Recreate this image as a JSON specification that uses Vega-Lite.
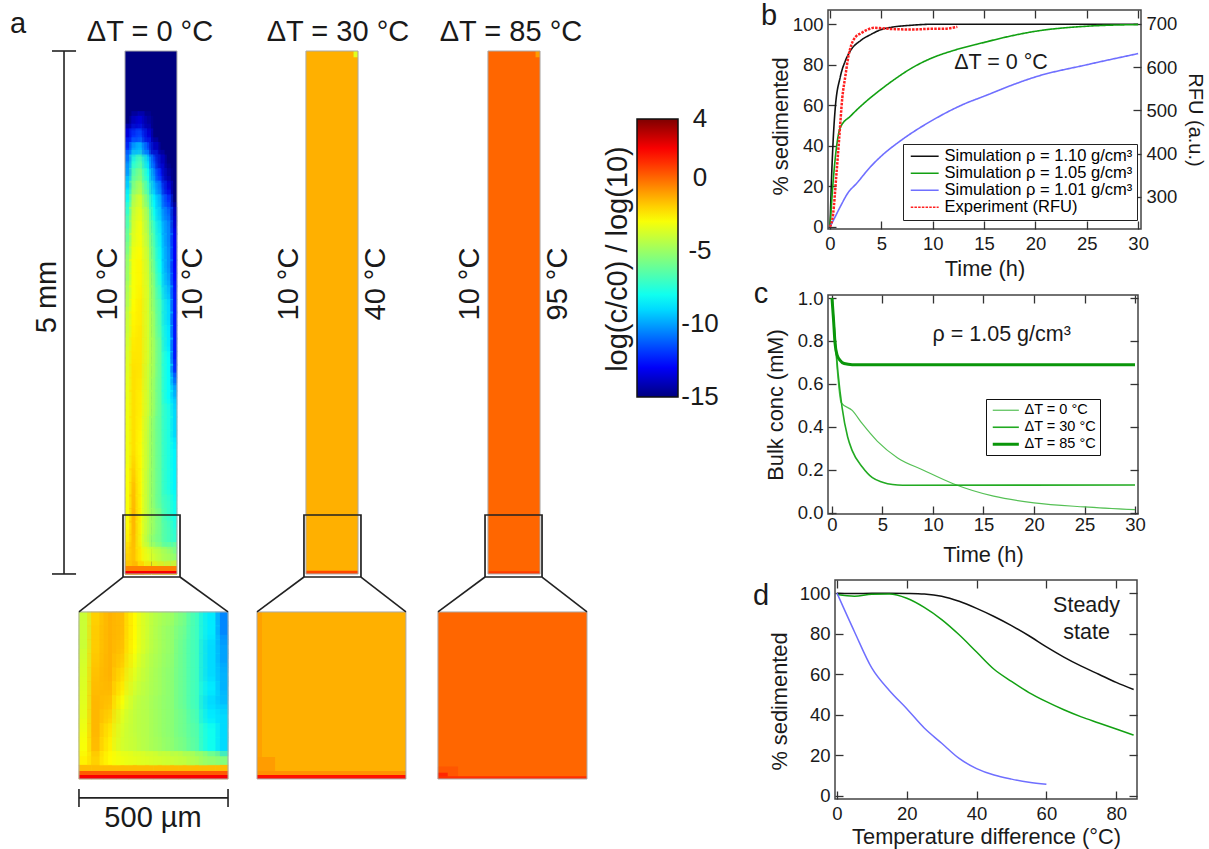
{"$schema":"https://vega.github.io/schema/vega-lite/v6.json","padding":{"left":0,"top":1,"right":0,"bottom":0},"background":"white","bounds":"flush","spacing":0,"resolve":{"scale":{"color":"independent"},"legend":{"color":"independent"}},"config":{"font":"Liberation Sans","view":{"stroke":"#444","strokeWidth":1.5},"axis":{"grid":false,"domain":false,"labelFont":"Liberation Sans","titleFont":"Liberation Sans","labelFontSize":18.5,"titleFontSize":21.8,"titleFontWeight":"normal","labelColor":"#1a1a1a","titleColor":"#1a1a1a","tickColor":"#333","tickWidth":1.3,"tickSize":-8,"labelPadding":13,"labelOverlap":false},"legend":{"labelFont":"Liberation Sans"},"text":{"font":"Liberation Sans","color":"#1a1a1a"}},"datasets":{"rects":[{"x":0.755,"x2":2.18,"y":-0.363,"y2":-1.96,"v":-4},{"x":1.195,"x2":1.692,"y":5,"y2":0,"v":-15},{"x":2.925,"x2":3.423,"y":5,"y2":0,"v":-1.38},{"x":4.665,"x2":5.163,"y":5,"y2":0,"v":0},{"x":2.457,"x2":3.881,"y":-0.363,"y2":-1.96,"v":-1.38},{"x":4.187,"x2":5.612,"y":-0.363,"y2":-1.96,"v":0}],"strips":[{"x":1.195,"x2":1.692,"y":0.076,"y2":0.029,"v":-0.5},{"x":1.195,"x2":1.692,"y":0.029,"y2":0,"v":2},{"x":2.925,"x2":3.423,"y":0.03,"y2":0,"v":0.6},{"x":3.38,"x2":3.42,"y":5,"y2":4.94,"v":-3.5},{"x":4.665,"x2":5.163,"y":0.025,"y2":0,"v":0.8},{"x":5.12,"x2":5.16,"y":5,"y2":4.94,"v":-1},{"x":0.755,"x2":2.18,"y":-1.883,"y2":-1.922,"v":0.2},{"x":0.755,"x2":2.18,"y":-1.922,"y2":-1.96,"v":2},{"x":2.457,"x2":2.505,"y":-0.363,"y2":-1.96,"v":-1.1},{"x":2.457,"x2":2.63,"y":-1.75,"y2":-1.9,"v":-1},{"x":2.457,"x2":3.881,"y":-1.883,"y2":-1.922,"v":-0.8},{"x":2.457,"x2":3.881,"y":-1.922,"y2":-1.96,"v":1.6},{"x":4.187,"x2":4.38,"y":-1.84,"y2":-1.96,"v":0.3},{"x":4.187,"x2":4.28,"y":-1.9,"y2":-1.96,"v":1.2},{"x":4.187,"x2":5.612,"y":-1.935,"y2":-1.96,"v":1}],"ch":[{"x":1.29,"y":4.31,"v":-14},{"x":1.35,"y":4.31,"v":-13.5},{"x":1.41,"y":4.31,"v":-14.5},{"x":1.23,"y":4.19,"v":-13.5},{"x":1.29,"y":4.19,"v":-12},{"x":1.35,"y":4.19,"v":-11.5},{"x":1.41,"y":4.19,"v":-13.5},{"x":1.23,"y":4.06,"v":-12},{"x":1.29,"y":4.06,"v":-10},{"x":1.35,"y":4.06,"v":-9.5},{"x":1.41,"y":4.06,"v":-11.5},{"x":1.48,"y":4.06,"v":-14},{"x":1.23,"y":3.94,"v":-10.5},{"x":1.29,"y":3.94,"v":-7.5},{"x":1.35,"y":3.94,"v":-6.5},{"x":1.41,"y":3.94,"v":-9},{"x":1.48,"y":3.94,"v":-11.5},{"x":1.54,"y":3.94,"v":-14},{"x":1.23,"y":3.81,"v":-10},{"x":1.29,"y":3.81,"v":-6.5},{"x":1.35,"y":3.81,"v":-5.5},{"x":1.41,"y":3.81,"v":-8},{"x":1.48,"y":3.81,"v":-10.5},{"x":1.54,"y":3.81,"v":-12.5},{"x":1.6,"y":3.81,"v":-14.5},{"x":1.23,"y":3.69,"v":-9},{"x":1.29,"y":3.69,"v":-5.5},{"x":1.35,"y":3.69,"v":-4.5},{"x":1.41,"y":3.69,"v":-7},{"x":1.48,"y":3.69,"v":-9.5},{"x":1.54,"y":3.69,"v":-11},{"x":1.6,"y":3.69,"v":-13.5},{"x":1.23,"y":3.56,"v":-8},{"x":1.29,"y":3.56,"v":-4.5},{"x":1.35,"y":3.56,"v":-3.6},{"x":1.41,"y":3.56,"v":-6},{"x":1.48,"y":3.56,"v":-8.5},{"x":1.54,"y":3.56,"v":-10},{"x":1.6,"y":3.56,"v":-12},{"x":1.23,"y":3.44,"v":-7},{"x":1.29,"y":3.44,"v":-4},{"x":1.35,"y":3.44,"v":-3.3},{"x":1.41,"y":3.44,"v":-5},{"x":1.48,"y":3.44,"v":-8},{"x":1.54,"y":3.44,"v":-9.5},{"x":1.6,"y":3.44,"v":-11},{"x":1.66,"y":3.44,"v":-14},{"x":1.23,"y":3.31,"v":-6.5},{"x":1.29,"y":3.31,"v":-3.7},{"x":1.35,"y":3.31,"v":-3},{"x":1.41,"y":3.31,"v":-4.8},{"x":1.48,"y":3.31,"v":-7.2},{"x":1.54,"y":3.31,"v":-9},{"x":1.6,"y":3.31,"v":-10.5},{"x":1.66,"y":3.31,"v":-13.5},{"x":1.23,"y":3.19,"v":-6},{"x":1.29,"y":3.19,"v":-3.5},{"x":1.35,"y":3.19,"v":-3},{"x":1.41,"y":3.19,"v":-4.5},{"x":1.48,"y":3.19,"v":-6.8},{"x":1.54,"y":3.19,"v":-8.7},{"x":1.6,"y":3.19,"v":-10.5},{"x":1.66,"y":3.19,"v":-13},{"x":1.23,"y":3.06,"v":-5.5},{"x":1.29,"y":3.06,"v":-3.2},{"x":1.35,"y":3.06,"v":-2.8},{"x":1.41,"y":3.06,"v":-4.2},{"x":1.48,"y":3.06,"v":-6.5},{"x":1.54,"y":3.06,"v":-8.5},{"x":1.6,"y":3.06,"v":-10.3},{"x":1.66,"y":3.06,"v":-13},{"x":1.23,"y":2.94,"v":-5},{"x":1.29,"y":2.94,"v":-3},{"x":1.35,"y":2.94,"v":-2.7},{"x":1.41,"y":2.94,"v":-4},{"x":1.48,"y":2.94,"v":-6.2},{"x":1.54,"y":2.94,"v":-8.3},{"x":1.6,"y":2.94,"v":-10.3},{"x":1.66,"y":2.94,"v":-13},{"x":1.23,"y":2.81,"v":-5},{"x":1.29,"y":2.81,"v":-3},{"x":1.35,"y":2.81,"v":-2.7},{"x":1.41,"y":2.81,"v":-3.9},{"x":1.48,"y":2.81,"v":-5.8},{"x":1.54,"y":2.81,"v":-8},{"x":1.6,"y":2.81,"v":-10},{"x":1.66,"y":2.81,"v":-12.8},{"x":1.23,"y":2.69,"v":-4.5},{"x":1.29,"y":2.69,"v":-3},{"x":1.35,"y":2.69,"v":-2.6},{"x":1.41,"y":2.69,"v":-3.8},{"x":1.48,"y":2.69,"v":-5.6},{"x":1.54,"y":2.69,"v":-7.5},{"x":1.6,"y":2.69,"v":-9.5},{"x":1.66,"y":2.69,"v":-12.5},{"x":1.23,"y":2.56,"v":-4.5},{"x":1.29,"y":2.56,"v":-2.8},{"x":1.35,"y":2.56,"v":-2.5},{"x":1.41,"y":2.56,"v":-3.8},{"x":1.48,"y":2.56,"v":-5.5},{"x":1.54,"y":2.56,"v":-7},{"x":1.6,"y":2.56,"v":-9},{"x":1.66,"y":2.56,"v":-12.5},{"x":1.23,"y":2.44,"v":-4},{"x":1.29,"y":2.44,"v":-2.7},{"x":1.35,"y":2.44,"v":-2.5},{"x":1.41,"y":2.44,"v":-3.8},{"x":1.48,"y":2.44,"v":-5.2},{"x":1.54,"y":2.44,"v":-7},{"x":1.6,"y":2.44,"v":-9},{"x":1.66,"y":2.44,"v":-12.5},{"x":1.23,"y":2.31,"v":-4},{"x":1.29,"y":2.31,"v":-2.6},{"x":1.35,"y":2.31,"v":-2.4},{"x":1.41,"y":2.31,"v":-3.8},{"x":1.48,"y":2.31,"v":-5.2},{"x":1.54,"y":2.31,"v":-6.8},{"x":1.6,"y":2.31,"v":-8.7},{"x":1.66,"y":2.31,"v":-12.5},{"x":1.23,"y":2.19,"v":-3.8},{"x":1.29,"y":2.19,"v":-2.5},{"x":1.35,"y":2.19,"v":-2.4},{"x":1.41,"y":2.19,"v":-3.8},{"x":1.48,"y":2.19,"v":-5},{"x":1.54,"y":2.19,"v":-6.5},{"x":1.6,"y":2.19,"v":-8.7},{"x":1.66,"y":2.19,"v":-12.5},{"x":1.23,"y":2.06,"v":-3.6},{"x":1.29,"y":2.06,"v":-2.4},{"x":1.35,"y":2.06,"v":-2.4},{"x":1.41,"y":2.06,"v":-3.8},{"x":1.48,"y":2.06,"v":-5},{"x":1.54,"y":2.06,"v":-6.5},{"x":1.6,"y":2.06,"v":-8.2},{"x":1.66,"y":2.06,"v":-12.5},{"x":1.23,"y":1.94,"v":-3.5},{"x":1.29,"y":1.94,"v":-2.3},{"x":1.35,"y":1.94,"v":-2.4},{"x":1.41,"y":1.94,"v":-4},{"x":1.48,"y":1.94,"v":-5},{"x":1.54,"y":1.94,"v":-6.5},{"x":1.6,"y":1.94,"v":-8.2},{"x":1.66,"y":1.94,"v":-12},{"x":1.23,"y":1.81,"v":-3.4},{"x":1.29,"y":1.81,"v":-2.3},{"x":1.35,"y":1.81,"v":-2.5},{"x":1.41,"y":1.81,"v":-4},{"x":1.48,"y":1.81,"v":-5.2},{"x":1.54,"y":1.81,"v":-6.5},{"x":1.6,"y":1.81,"v":-8.2},{"x":1.66,"y":1.81,"v":-10.5},{"x":1.23,"y":1.69,"v":-3.3},{"x":1.29,"y":1.69,"v":-2.3},{"x":1.35,"y":1.69,"v":-2.6},{"x":1.41,"y":1.69,"v":-4},{"x":1.48,"y":1.69,"v":-5.2},{"x":1.54,"y":1.69,"v":-6.5},{"x":1.6,"y":1.69,"v":-8.2},{"x":1.66,"y":1.69,"v":-9.5},{"x":1.23,"y":1.56,"v":-3.2},{"x":1.29,"y":1.56,"v":-2.3},{"x":1.35,"y":1.56,"v":-2.6},{"x":1.41,"y":1.56,"v":-4},{"x":1.48,"y":1.56,"v":-5.2},{"x":1.54,"y":1.56,"v":-6.5},{"x":1.6,"y":1.56,"v":-7.7},{"x":1.66,"y":1.56,"v":-9},{"x":1.23,"y":1.44,"v":-3.2},{"x":1.29,"y":1.44,"v":-2.3},{"x":1.35,"y":1.44,"v":-2.7},{"x":1.41,"y":1.44,"v":-4.2},{"x":1.48,"y":1.44,"v":-5.5},{"x":1.54,"y":1.44,"v":-6.5},{"x":1.6,"y":1.44,"v":-7.7},{"x":1.66,"y":1.44,"v":-9},{"x":1.23,"y":1.31,"v":-3.2},{"x":1.29,"y":1.31,"v":-2.3},{"x":1.35,"y":1.31,"v":-2.8},{"x":1.41,"y":1.31,"v":-4.3},{"x":1.48,"y":1.31,"v":-5.5},{"x":1.54,"y":1.31,"v":-6.5},{"x":1.6,"y":1.31,"v":-7.7},{"x":1.66,"y":1.31,"v":-9},{"x":1.23,"y":1.19,"v":-3.2},{"x":1.29,"y":1.19,"v":-2.3},{"x":1.35,"y":1.19,"v":-2.9},{"x":1.41,"y":1.19,"v":-4.3},{"x":1.48,"y":1.19,"v":-5.5},{"x":1.54,"y":1.19,"v":-6.5},{"x":1.6,"y":1.19,"v":-7.7},{"x":1.66,"y":1.19,"v":-8.5},{"x":1.23,"y":1.06,"v":-3.2},{"x":1.29,"y":1.06,"v":-2.1},{"x":1.35,"y":1.06,"v":-2.9},{"x":1.41,"y":1.06,"v":-4.3},{"x":1.48,"y":1.06,"v":-5.5},{"x":1.54,"y":1.06,"v":-6.5},{"x":1.6,"y":1.06,"v":-7.7},{"x":1.66,"y":1.06,"v":-8.5},{"x":1.23,"y":0.94,"v":-3},{"x":1.29,"y":0.94,"v":-1.9},{"x":1.35,"y":0.94,"v":-2.9},{"x":1.41,"y":0.94,"v":-4.4},{"x":1.48,"y":0.94,"v":-5.5},{"x":1.54,"y":0.94,"v":-6.5},{"x":1.6,"y":0.94,"v":-7.7},{"x":1.66,"y":0.94,"v":-8.5},{"x":1.23,"y":0.81,"v":-3},{"x":1.29,"y":0.81,"v":-1.7},{"x":1.35,"y":0.81,"v":-2.9},{"x":1.41,"y":0.81,"v":-4.4},{"x":1.48,"y":0.81,"v":-5.5},{"x":1.54,"y":0.81,"v":-6.5},{"x":1.6,"y":0.81,"v":-7.7},{"x":1.66,"y":0.81,"v":-8.5},{"x":1.23,"y":0.69,"v":-3},{"x":1.29,"y":0.69,"v":-1.6},{"x":1.35,"y":0.69,"v":-2.9},{"x":1.41,"y":0.69,"v":-4.4},{"x":1.48,"y":0.69,"v":-5.5},{"x":1.54,"y":0.69,"v":-6.5},{"x":1.6,"y":0.69,"v":-7.2},{"x":1.66,"y":0.69,"v":-8},{"x":1.23,"y":0.56,"v":-3},{"x":1.29,"y":0.56,"v":-1.5},{"x":1.35,"y":0.56,"v":-2.9},{"x":1.41,"y":0.56,"v":-4.4},{"x":1.48,"y":0.56,"v":-5.2},{"x":1.54,"y":0.56,"v":-6},{"x":1.6,"y":0.56,"v":-7.2},{"x":1.66,"y":0.56,"v":-8},{"x":1.23,"y":0.44,"v":-2.8},{"x":1.29,"y":0.44,"v":-1.5},{"x":1.35,"y":0.44,"v":-3},{"x":1.41,"y":0.44,"v":-4.4},{"x":1.48,"y":0.44,"v":-5.2},{"x":1.54,"y":0.44,"v":-6},{"x":1.6,"y":0.44,"v":-6.8},{"x":1.66,"y":0.44,"v":-7.5},{"x":1.23,"y":0.31,"v":-2.5},{"x":1.29,"y":0.31,"v":-1.6},{"x":1.35,"y":0.31,"v":-3.1},{"x":1.41,"y":0.31,"v":-4.6},{"x":1.48,"y":0.31,"v":-5.5},{"x":1.54,"y":0.31,"v":-6},{"x":1.6,"y":0.31,"v":-6.8},{"x":1.66,"y":0.31,"v":-7.2},{"x":1.23,"y":0.19,"v":-2},{"x":1.29,"y":0.19,"v":-1.7},{"x":1.35,"y":0.19,"v":-2.6},{"x":1.41,"y":0.19,"v":-3.4},{"x":1.48,"y":0.19,"v":-3.9},{"x":1.54,"y":0.19,"v":-4.4},{"x":1.6,"y":0.19,"v":-4.8},{"x":1.66,"y":0.19,"v":-5.2},{"x":1.23,"y":0.06,"v":-1.5},{"x":1.29,"y":0.06,"v":-1.4},{"x":1.35,"y":0.06,"v":-1.6},{"x":1.41,"y":0.06,"v":-2},{"x":1.48,"y":0.06,"v":-2.2},{"x":1.54,"y":0.06,"v":-2.2},{"x":1.6,"y":0.06,"v":-2.3},{"x":1.66,"y":0.06,"v":-2.4}],"ins":[{"x":0.814,"y":-0.43,"v":-4},{"x":0.933,"y":-0.43,"v":-2},{"x":1.052,"y":-0.43,"v":-1.4},{"x":1.171,"y":-0.43,"v":-1.6},{"x":1.289,"y":-0.43,"v":-2.8},{"x":1.408,"y":-0.43,"v":-3.9},{"x":1.527,"y":-0.43,"v":-4.6},{"x":1.646,"y":-0.43,"v":-5},{"x":1.764,"y":-0.43,"v":-5.8},{"x":1.883,"y":-0.43,"v":-7},{"x":2.002,"y":-0.43,"v":-8.7},{"x":2.121,"y":-0.43,"v":-10.5},{"x":0.814,"y":-0.563,"v":-4},{"x":0.933,"y":-0.563,"v":-1.9},{"x":1.052,"y":-0.563,"v":-1.4},{"x":1.171,"y":-0.563,"v":-1.6},{"x":1.289,"y":-0.563,"v":-2.8},{"x":1.408,"y":-0.563,"v":-3.9},{"x":1.527,"y":-0.563,"v":-4.7},{"x":1.646,"y":-0.563,"v":-5.2},{"x":1.764,"y":-0.563,"v":-6},{"x":1.883,"y":-0.563,"v":-7},{"x":2.002,"y":-0.563,"v":-8.7},{"x":2.121,"y":-0.563,"v":-10.5},{"x":0.814,"y":-0.696,"v":-4},{"x":0.933,"y":-0.696,"v":-1.9},{"x":1.052,"y":-0.696,"v":-1.4},{"x":1.171,"y":-0.696,"v":-1.7},{"x":1.289,"y":-0.696,"v":-2.9},{"x":1.408,"y":-0.696,"v":-4},{"x":1.527,"y":-0.696,"v":-4.7},{"x":1.646,"y":-0.696,"v":-5.2},{"x":1.764,"y":-0.696,"v":-6.2},{"x":1.883,"y":-0.696,"v":-7},{"x":2.002,"y":-0.696,"v":-9},{"x":2.121,"y":-0.696,"v":-10},{"x":0.814,"y":-0.829,"v":-3.8},{"x":0.933,"y":-0.829,"v":-1.8},{"x":1.052,"y":-0.829,"v":-1.4},{"x":1.171,"y":-0.829,"v":-1.9},{"x":1.289,"y":-0.829,"v":-3.2},{"x":1.408,"y":-0.829,"v":-4.2},{"x":1.527,"y":-0.829,"v":-4.8},{"x":1.646,"y":-0.829,"v":-5.3},{"x":1.764,"y":-0.829,"v":-6.2},{"x":1.883,"y":-0.829,"v":-7},{"x":2.002,"y":-0.829,"v":-9},{"x":2.121,"y":-0.829,"v":-10},{"x":0.814,"y":-0.962,"v":-3.7},{"x":0.933,"y":-0.962,"v":-1.7},{"x":1.052,"y":-0.962,"v":-1.4},{"x":1.171,"y":-0.962,"v":-2.2},{"x":1.289,"y":-0.962,"v":-3.5},{"x":1.408,"y":-0.962,"v":-4.3},{"x":1.527,"y":-0.962,"v":-4.9},{"x":1.646,"y":-0.962,"v":-5.4},{"x":1.764,"y":-0.962,"v":-6.2},{"x":1.883,"y":-0.962,"v":-7},{"x":2.002,"y":-0.962,"v":-9},{"x":2.121,"y":-0.962,"v":-9.7},{"x":0.814,"y":-1.095,"v":-3.6},{"x":0.933,"y":-1.095,"v":-1.6},{"x":1.052,"y":-1.095,"v":-1.5},{"x":1.171,"y":-1.095,"v":-2.5},{"x":1.289,"y":-1.095,"v":-3.8},{"x":1.408,"y":-1.095,"v":-4.4},{"x":1.527,"y":-1.095,"v":-4.9},{"x":1.646,"y":-1.095,"v":-5.4},{"x":1.764,"y":-1.095,"v":-6.2},{"x":1.883,"y":-1.095,"v":-7},{"x":2.002,"y":-1.095,"v":-8.7},{"x":2.121,"y":-1.095,"v":-9.7},{"x":0.814,"y":-1.228,"v":-3.5},{"x":0.933,"y":-1.228,"v":-1.5},{"x":1.052,"y":-1.228,"v":-1.7},{"x":1.171,"y":-1.228,"v":-3},{"x":1.289,"y":-1.228,"v":-4.1},{"x":1.408,"y":-1.228,"v":-4.5},{"x":1.527,"y":-1.228,"v":-5},{"x":1.646,"y":-1.228,"v":-5.4},{"x":1.764,"y":-1.228,"v":-6.2},{"x":1.883,"y":-1.228,"v":-7},{"x":2.002,"y":-1.228,"v":-9},{"x":2.121,"y":-1.228,"v":-9.5},{"x":0.814,"y":-1.362,"v":-3.4},{"x":0.933,"y":-1.362,"v":-1.5},{"x":1.052,"y":-1.362,"v":-2},{"x":1.171,"y":-1.362,"v":-3.5},{"x":1.289,"y":-1.362,"v":-4.2},{"x":1.408,"y":-1.362,"v":-4.5},{"x":1.527,"y":-1.362,"v":-5},{"x":1.646,"y":-1.362,"v":-5.4},{"x":1.764,"y":-1.362,"v":-6},{"x":1.883,"y":-1.362,"v":-6.8},{"x":2.002,"y":-1.362,"v":-8.7},{"x":2.121,"y":-1.362,"v":-9},{"x":0.814,"y":-1.495,"v":-3.2},{"x":0.933,"y":-1.495,"v":-1.5},{"x":1.052,"y":-1.495,"v":-2.4},{"x":1.171,"y":-1.495,"v":-3.7},{"x":1.289,"y":-1.495,"v":-4.2},{"x":1.408,"y":-1.495,"v":-4.5},{"x":1.527,"y":-1.495,"v":-5},{"x":1.646,"y":-1.495,"v":-5.4},{"x":1.764,"y":-1.495,"v":-6},{"x":1.883,"y":-1.495,"v":-6.6},{"x":2.002,"y":-1.495,"v":-8},{"x":2.121,"y":-1.495,"v":-9},{"x":0.814,"y":-1.628,"v":-3},{"x":0.933,"y":-1.628,"v":-1.6},{"x":1.052,"y":-1.628,"v":-2.6},{"x":1.171,"y":-1.628,"v":-3.8},{"x":1.289,"y":-1.628,"v":-4.1},{"x":1.408,"y":-1.628,"v":-4.5},{"x":1.527,"y":-1.628,"v":-4.9},{"x":1.646,"y":-1.628,"v":-5.3},{"x":1.764,"y":-1.628,"v":-5.8},{"x":1.883,"y":-1.628,"v":-6.5},{"x":2.002,"y":-1.628,"v":-8},{"x":2.121,"y":-1.628,"v":-9},{"x":0.814,"y":-1.761,"v":-2.6},{"x":0.933,"y":-1.761,"v":-2},{"x":1.052,"y":-1.761,"v":-2.8},{"x":1.171,"y":-1.761,"v":-3.2},{"x":1.289,"y":-1.761,"v":-3.4},{"x":1.408,"y":-1.761,"v":-3.6},{"x":1.527,"y":-1.761,"v":-3.8},{"x":1.646,"y":-1.761,"v":-4},{"x":1.764,"y":-1.761,"v":-4.2},{"x":1.883,"y":-1.761,"v":-4.6},{"x":2.002,"y":-1.761,"v":-5.2},{"x":2.121,"y":-1.761,"v":-5.5},{"x":0.814,"y":-1.894,"v":-1.6},{"x":0.933,"y":-1.894,"v":-1.6},{"x":1.052,"y":-1.894,"v":-1.6},{"x":1.171,"y":-1.894,"v":-1.6},{"x":1.289,"y":-1.894,"v":-1.6},{"x":1.408,"y":-1.894,"v":-1.6},{"x":1.527,"y":-1.894,"v":-1.6},{"x":1.646,"y":-1.894,"v":-1.6},{"x":1.764,"y":-1.894,"v":-1.6},{"x":1.883,"y":-1.894,"v":-1.6},{"x":2.002,"y":-1.894,"v":-1.6},{"x":2.121,"y":-1.894,"v":-1.6}],"outlines":[{"x":1.195,"x2":1.692,"y":5,"y2":0},{"x":2.925,"x2":3.423,"y":5,"y2":0},{"x":4.665,"x2":5.163,"y":5,"y2":0},{"x":0.755,"x2":2.18,"y":-0.363,"y2":-1.96},{"x":2.457,"x2":3.881,"y":-0.363,"y2":-1.96},{"x":4.187,"x2":5.612,"y":-0.363,"y2":-1.96}],"boxes":[{"x":1.176,"x2":1.721,"y":0.564,"y2":-0.029},{"x":2.906,"x2":3.451,"y":0.564,"y2":-0.029},{"x":4.637,"x2":5.182,"y":0.564,"y2":-0.029}],"segs":[{"x":0.612,"x2":0.612,"y":5,"y2":0},{"x":0.497,"x2":0.727,"y":5,"y2":5},{"x":0.497,"x2":0.727,"y":0,"y2":0},{"x":0.755,"x2":2.18,"y":-2.141,"y2":-2.141},{"x":0.755,"x2":0.755,"y":-2.055,"y2":-2.228},{"x":2.18,"x2":2.18,"y":-2.055,"y2":-2.228},{"x":1.176,"x2":0.755,"y":-0.029,"y2":-0.363},{"x":1.721,"x2":2.18,"y":-0.029,"y2":-0.363},{"x":2.906,"x2":2.457,"y":-0.029,"y2":-0.363},{"x":3.451,"x2":3.881,"y":-0.029,"y2":-0.363},{"x":4.637,"x2":4.187,"y":-0.029,"y2":-0.363},{"x":5.182,"x2":5.612,"y":-0.029,"y2":-0.363}],"labels":[{"x":1.434,"y":5.182,"t":"ΔT = 0 °C"},{"x":3.231,"y":5.182,"t":"ΔT = 30 °C"},{"x":4.885,"y":5.182,"t":"ΔT = 85 °C"},{"x":1.463,"y":-2.333,"t":"500 µm"},{"x":0.172,"y":5.258,"t":"a"},{"x":7.352,"y":5.335,"t":"b"},{"x":7.275,"y":2.677,"t":"c"},{"x":7.275,"y":-0.21,"t":"d"}],"vlabels":[{"x":0.449,"y":2.648,"t":"5 mm"},{"x":1.033,"y":2.772,"t":"10 °C"},{"x":1.845,"y":2.772,"t":"10 °C"},{"x":2.763,"y":2.772,"t":"10 °C"},{"x":3.595,"y":2.772,"t":"40 °C"},{"x":4.493,"y":2.772,"t":"10 °C"},{"x":5.335,"y":2.772,"t":"95 °C"},{"x":5.908,"y":3.011,"t":"log(c/c0) / log(10)"}],"b":[{"t":0,"p":0,"s":"Simulation ρ = 1.10 g/cm³"},{"t":0.15,"p":24,"s":"Simulation ρ = 1.10 g/cm³"},{"t":0.3,"p":42,"s":"Simulation ρ = 1.10 g/cm³"},{"t":0.5,"p":58,"s":"Simulation ρ = 1.10 g/cm³"},{"t":1,"p":74,"s":"Simulation ρ = 1.10 g/cm³"},{"t":1.5,"p":82,"s":"Simulation ρ = 1.10 g/cm³"},{"t":2,"p":87,"s":"Simulation ρ = 1.10 g/cm³"},{"t":3,"p":92,"s":"Simulation ρ = 1.10 g/cm³"},{"t":4,"p":95,"s":"Simulation ρ = 1.10 g/cm³"},{"t":5,"p":97.4,"s":"Simulation ρ = 1.10 g/cm³"},{"t":6,"p":98.5,"s":"Simulation ρ = 1.10 g/cm³"},{"t":8,"p":99.5,"s":"Simulation ρ = 1.10 g/cm³"},{"t":10,"p":100,"s":"Simulation ρ = 1.10 g/cm³"},{"t":30,"p":100,"s":"Simulation ρ = 1.10 g/cm³"},{"t":0,"p":0,"s":"Simulation ρ = 1.05 g/cm³"},{"t":0.3,"p":22,"s":"Simulation ρ = 1.05 g/cm³"},{"t":0.6,"p":38,"s":"Simulation ρ = 1.05 g/cm³"},{"t":1,"p":49,"s":"Simulation ρ = 1.05 g/cm³"},{"t":2,"p":54.7,"s":"Simulation ρ = 1.05 g/cm³"},{"t":3,"p":59.6,"s":"Simulation ρ = 1.05 g/cm³"},{"t":5,"p":68,"s":"Simulation ρ = 1.05 g/cm³"},{"t":6.2,"p":72.5,"s":"Simulation ρ = 1.05 g/cm³"},{"t":8,"p":78.5,"s":"Simulation ρ = 1.05 g/cm³"},{"t":10,"p":83.5,"s":"Simulation ρ = 1.05 g/cm³"},{"t":12,"p":87,"s":"Simulation ρ = 1.05 g/cm³"},{"t":15,"p":91,"s":"Simulation ρ = 1.05 g/cm³"},{"t":17,"p":93.5,"s":"Simulation ρ = 1.05 g/cm³"},{"t":20,"p":96.5,"s":"Simulation ρ = 1.05 g/cm³"},{"t":25,"p":99,"s":"Simulation ρ = 1.05 g/cm³"},{"t":30,"p":99.8,"s":"Simulation ρ = 1.05 g/cm³"},{"t":0,"p":0,"s":"Simulation ρ = 1.01 g/cm³"},{"t":0.5,"p":5,"s":"Simulation ρ = 1.01 g/cm³"},{"t":1,"p":10,"s":"Simulation ρ = 1.01 g/cm³"},{"t":1.8,"p":17.2,"s":"Simulation ρ = 1.01 g/cm³"},{"t":2.5,"p":21,"s":"Simulation ρ = 1.01 g/cm³"},{"t":4,"p":30,"s":"Simulation ρ = 1.01 g/cm³"},{"t":5,"p":35,"s":"Simulation ρ = 1.01 g/cm³"},{"t":7,"p":43,"s":"Simulation ρ = 1.01 g/cm³"},{"t":10,"p":52.7,"s":"Simulation ρ = 1.01 g/cm³"},{"t":13,"p":60.5,"s":"Simulation ρ = 1.01 g/cm³"},{"t":15,"p":64.5,"s":"Simulation ρ = 1.01 g/cm³"},{"t":18,"p":70.5,"s":"Simulation ρ = 1.01 g/cm³"},{"t":20,"p":74,"s":"Simulation ρ = 1.01 g/cm³"},{"t":25,"p":80,"s":"Simulation ρ = 1.01 g/cm³"},{"t":30,"p":85.5,"s":"Simulation ρ = 1.01 g/cm³"}],"rfu":[{"t":0,"r":231,"s":"Experiment (RFU)"},{"t":0.3,"r":260,"s":"Experiment (RFU)"},{"t":0.6,"r":345,"s":"Experiment (RFU)"},{"t":0.9,"r":437,"s":"Experiment (RFU)"},{"t":1.2,"r":530,"s":"Experiment (RFU)"},{"t":1.5,"r":580,"s":"Experiment (RFU)"},{"t":1.8,"r":626,"s":"Experiment (RFU)"},{"t":2.1,"r":653,"s":"Experiment (RFU)"},{"t":2.5,"r":670,"s":"Experiment (RFU)"},{"t":3,"r":678,"s":"Experiment (RFU)"},{"t":3.5,"r":685,"s":"Experiment (RFU)"},{"t":4.3,"r":691,"s":"Experiment (RFU)"},{"t":5,"r":690,"s":"Experiment (RFU)"},{"t":6,"r":688,"s":"Experiment (RFU)"},{"t":8,"r":687,"s":"Experiment (RFU)"},{"t":10,"r":688.5,"s":"Experiment (RFU)"},{"t":11,"r":688.5,"s":"Experiment (RFU)"},{"t":12.4,"r":693,"s":"Experiment (RFU)"}],"c":[{"t":0,"y":1,"s":"ΔT = 0 °C"},{"t":0.3,"y":0.8,"s":"ΔT = 0 °C"},{"t":0.6,"y":0.62,"s":"ΔT = 0 °C"},{"t":0.9,"y":0.513,"s":"ΔT = 0 °C"},{"t":2,"y":0.477,"s":"ΔT = 0 °C"},{"t":3,"y":0.415,"s":"ΔT = 0 °C"},{"t":4.5,"y":0.333,"s":"ΔT = 0 °C"},{"t":6.5,"y":0.256,"s":"ΔT = 0 °C"},{"t":9,"y":0.2,"s":"ΔT = 0 °C"},{"t":12,"y":0.136,"s":"ΔT = 0 °C"},{"t":16,"y":0.078,"s":"ΔT = 0 °C"},{"t":20,"y":0.047,"s":"ΔT = 0 °C"},{"t":25,"y":0.028,"s":"ΔT = 0 °C"},{"t":30,"y":0.015,"s":"ΔT = 0 °C"},{"t":0,"y":1,"s":"ΔT = 30 °C"},{"t":0.3,"y":0.82,"s":"ΔT = 30 °C"},{"t":0.6,"y":0.65,"s":"ΔT = 30 °C"},{"t":1,"y":0.49,"s":"ΔT = 30 °C"},{"t":1.55,"y":0.353,"s":"ΔT = 30 °C"},{"t":2,"y":0.29,"s":"ΔT = 30 °C"},{"t":3,"y":0.214,"s":"ΔT = 30 °C"},{"t":4,"y":0.164,"s":"ΔT = 30 °C"},{"t":5,"y":0.143,"s":"ΔT = 30 °C"},{"t":6,"y":0.132,"s":"ΔT = 30 °C"},{"t":7,"y":0.129,"s":"ΔT = 30 °C"},{"t":30,"y":0.13,"s":"ΔT = 30 °C"},{"t":0,"y":1,"s":"ΔT = 85 °C"},{"t":0.15,"y":0.9,"s":"ΔT = 85 °C"},{"t":0.3,"y":0.79,"s":"ΔT = 85 °C"},{"t":0.5,"y":0.735,"s":"ΔT = 85 °C"},{"t":0.8,"y":0.71,"s":"ΔT = 85 °C"},{"t":1.2,"y":0.695,"s":"ΔT = 85 °C"},{"t":2,"y":0.69,"s":"ΔT = 85 °C"},{"t":30,"y":0.69,"s":"ΔT = 85 °C"}],"d":[{"d":0,"p":100,"s":"k"},{"d":5,"p":99.8,"s":"k"},{"d":10,"p":100,"s":"k"},{"d":15,"p":100,"s":"k"},{"d":20,"p":99.9,"s":"k"},{"d":25,"p":99.6,"s":"k"},{"d":30,"p":98.5,"s":"k"},{"d":35,"p":96,"s":"k"},{"d":40,"p":92.5,"s":"k"},{"d":45,"p":88.5,"s":"k"},{"d":50,"p":84,"s":"k"},{"d":55,"p":79,"s":"k"},{"d":60,"p":73.5,"s":"k"},{"d":65,"p":68.5,"s":"k"},{"d":70,"p":64,"s":"k"},{"d":75,"p":60,"s":"k"},{"d":80,"p":56,"s":"k"},{"d":85,"p":52.5,"s":"k"},{"d":0,"p":99.3,"s":"g"},{"d":5,"p":98.5,"s":"g"},{"d":10,"p":99.5,"s":"g"},{"d":15,"p":99.6,"s":"g"},{"d":20,"p":97.5,"s":"g"},{"d":25,"p":93,"s":"g"},{"d":30,"p":87,"s":"g"},{"d":35,"p":79.5,"s":"g"},{"d":40,"p":71,"s":"g"},{"d":45,"p":62.5,"s":"g"},{"d":50,"p":56.5,"s":"g"},{"d":55,"p":51,"s":"g"},{"d":60,"p":46.5,"s":"g"},{"d":65,"p":42.5,"s":"g"},{"d":70,"p":39,"s":"g"},{"d":75,"p":36,"s":"g"},{"d":80,"p":33,"s":"g"},{"d":85,"p":30,"s":"g"},{"d":0,"p":100,"s":"b"},{"d":5,"p":81,"s":"b"},{"d":10,"p":63,"s":"b"},{"d":15,"p":52,"s":"b"},{"d":20,"p":43,"s":"b"},{"d":25,"p":33.5,"s":"b"},{"d":30,"p":26,"s":"b"},{"d":35,"p":18.5,"s":"b"},{"d":40,"p":13.5,"s":"b"},{"d":45,"p":10.3,"s":"b"},{"d":50,"p":8.3,"s":"b"},{"d":55,"p":6.8,"s":"b"},{"d":60,"p":5.8,"s":"b"}]},"hconcat":[{"width":828,"height":840,"view":{"stroke":null},"layer":[{"data":{"name":"rects"},"mark":{"type":"rect"},"encoding":{"x":{"field":"x","type":"quantitative","scale":{"domain":[0,7.916],"nice":false,"zero":false},"axis":null},"x2":{"field":"x2"},"y":{"field":"y","type":"quantitative","scale":{"domain":[-2.639,5.392],"nice":false,"zero":false},"axis":null},"y2":{"field":"y2"},"color":{"field":"v","type":"quantitative","scale":{"type":"linear","domain":[-15,-12.9,-8.35,-2.85,1.9,4],"range":["#00007F","#0000FF","#00FFFF","#FFFF00","#FF0000","#7F0000"],"interpolate":"rgb","clamp":true},"legend":{"orient":"none","legendX":637,"legendY":109,"title":null,"gradientLength":278,"gradientThickness":41,"gradientOpacity":1,"gradientStrokeColor":"#111","gradientStrokeWidth":1.5,"values":[4,0,-5,-10,-15],"labelExpr":"datum.value+''","labelFontSize":26,"labelColor":"#1a1a1a","labelOffset":22,"padding":0,"encoding":{"labels":{"align":{"value":"center"},"baseline":{"value":"middle"}}}}}}},{"data":{"name":"ch"},"mark":{"type":"rect","width":7,"height":14.6},"encoding":{"x":{"field":"x","type":"quantitative","axis":null},"y":{"field":"y","type":"quantitative","axis":null},"color":{"field":"v","type":"quantitative"}}},{"data":{"name":"ch"},"transform":[{"filter":"datum.y>0.1"}],"mark":{"type":"rect","width":7,"height":24,"fillOpacity":0.5},"encoding":{"x":{"field":"x","type":"quantitative","axis":null},"y":{"field":"y","type":"quantitative","axis":null},"color":{"field":"v","type":"quantitative"}}},{"data":{"name":"ch"},"transform":[{"filter":"datum.x>1.24&&datum.x<1.65&&datum.y>0.1"}],"mark":{"type":"rect","width":11.5,"height":14.6,"fillOpacity":0.45},"encoding":{"x":{"field":"x","type":"quantitative","axis":null},"y":{"field":"y","type":"quantitative","axis":null},"color":{"field":"v","type":"quantitative"}}},{"data":{"name":"ins"},"mark":{"type":"rect","width":12.9,"height":14.4},"encoding":{"x":{"field":"x","type":"quantitative","axis":null},"y":{"field":"y","type":"quantitative","axis":null},"color":{"field":"v","type":"quantitative"}}},{"data":{"name":"ins"},"transform":[{"filter":"datum.y<-0.5&&datum.y>-1.7"}],"mark":{"type":"rect","width":12.9,"height":24,"fillOpacity":0.5},"encoding":{"x":{"field":"x","type":"quantitative","axis":null},"y":{"field":"y","type":"quantitative","axis":null},"color":{"field":"v","type":"quantitative"}}},{"data":{"name":"ins"},"transform":[{"filter":"datum.x>0.85&&datum.x<2.08&&datum.y>-1.85"}],"mark":{"type":"rect","width":21,"height":14.4,"fillOpacity":0.45},"encoding":{"x":{"field":"x","type":"quantitative","axis":null},"y":{"field":"y","type":"quantitative","axis":null},"color":{"field":"v","type":"quantitative"}}},{"data":{"name":"strips"},"mark":{"type":"rect"},"encoding":{"x":{"field":"x","type":"quantitative","axis":null},"x2":{"field":"x2"},"y":{"field":"y","type":"quantitative","axis":null},"y2":{"field":"y2"},"color":{"field":"v","type":"quantitative"}}},{"data":{"name":"outlines"},"mark":{"type":"rect","fillOpacity":0,"stroke":"#aaa","strokeWidth":1},"encoding":{"x":{"field":"x","type":"quantitative","axis":null},"x2":{"field":"x2"},"y":{"field":"y","type":"quantitative","axis":null},"y2":{"field":"y2"}}},{"data":{"name":"boxes"},"mark":{"type":"rect","fillOpacity":0,"stroke":"#222","strokeWidth":1.7},"encoding":{"x":{"field":"x","type":"quantitative","axis":null},"x2":{"field":"x2"},"y":{"field":"y","type":"quantitative","axis":null},"y2":{"field":"y2"}}},{"data":{"name":"segs"},"mark":{"type":"rule","color":"#222","strokeWidth":1.6},"encoding":{"x":{"field":"x","type":"quantitative","axis":null},"x2":{"field":"x2"},"y":{"field":"y","type":"quantitative","axis":null},"y2":{"field":"y2"}}},{"data":{"name":"labels"},"mark":{"type":"text","fontSize":29,"align":"center","baseline":"middle"},"encoding":{"x":{"field":"x","type":"quantitative","axis":null},"y":{"field":"y","type":"quantitative","axis":null},"text":{"field":"t"}}},{"data":{"name":"vlabels"},"mark":{"type":"text","fontSize":29,"align":"center","baseline":"middle","angle":270},"encoding":{"x":{"field":"x","type":"quantitative","axis":null},"y":{"field":"y","type":"quantitative","axis":null},"text":{"field":"t"}}}]},{"bounds":"flush","spacing":66,"resolve":{"scale":{"color":"independent","strokeWidth":"independent","strokeDash":"independent"},"legend":{"color":"independent","strokeWidth":"independent","strokeDash":"independent"}},"vconcat":[{"width":313,"height":219,"layer":[{"data":{"name":"b"},"mark":{"type":"line","interpolate":"monotone"},"encoding":{"x":{"field":"t","type":"quantitative","scale":{"domain":[-0.195,30.28],"nice":false,"zero":false},"axis":{"values":[0,5,10,15,20,25,30],"title":"Time (h)","titlePadding":6,"format":"d"}},"y":{"field":"p","type":"quantitative","scale":{"domain":[-1,107],"nice":false,"zero":false},"axis":{"values":[0,20,40,60,80,100],"title":"% sedimented","titlePadding":0,"titleY":116,"format":"d"}},"color":{"field":"s","type":"nominal","scale":{"domain":["Simulation ρ = 1.10 g/cm³","Simulation ρ = 1.05 g/cm³","Simulation ρ = 1.01 g/cm³","Experiment (RFU)"],"range":["#111111","#12A012","#6F6FFF","#FF2020"]},"legend":{"orient":"none","legendX":75,"legendY":134,"title":null,"strokeColor":"#222","fillColor":"white","padding":4,"labelFontSize":16.5,"symbolType":"M-1,0L5.2,0","symbolSize":81,"rowPadding":0,"labelLimit":260,"labelOffset":21,"encoding":{"symbols":{"strokeWidth":{"signal":"datum.value==='Experiment (RFU)'?3:1.6"}}}}},"strokeDash":{"field":"s","type":"nominal","scale":{"domain":["Simulation ρ = 1.10 g/cm³","Simulation ρ = 1.05 g/cm³","Simulation ρ = 1.01 g/cm³","Experiment (RFU)"],"range":[[1,0],[1,0],[1,0],[2.5,1.2]]}},"strokeWidth":{"field":"s","type":"nominal","legend":null,"scale":{"type":"ordinal","domain":["Simulation ρ = 1.10 g/cm³","Simulation ρ = 1.05 g/cm³","Simulation ρ = 1.01 g/cm³","Experiment (RFU)"],"range":[1.6,1.6,1.6,3]}}}},{"data":{"name":"rfu"},"mark":{"type":"line","interpolate":"monotone"},"encoding":{"x":{"field":"t","type":"quantitative","axis":{"orient":"top","labels":false,"title":null,"values":[0,5,10,15,20,25,30]}},"y":{"field":"r","type":"quantitative","scale":{"domain":[226,732],"nice":false,"zero":false},"axis":{"orient":"right","values":[300,400,500,600,700],"title":"RFU (a.u.)","titleAngle":90,"titlePadding":8,"titleFontSize":20,"format":"d"}},"color":{"field":"s","type":"nominal"},"strokeDash":{"field":"s","type":"nominal"},"strokeWidth":{"field":"s","type":"nominal","legend":null}}},{"data":{"values":[{"t":16.65,"p":80.8,"l":"ΔT = 0 °C"}]},"mark":{"type":"text","fontSize":21.5},"encoding":{"x":{"field":"t","type":"quantitative","axis":null},"y":{"field":"p","type":"quantitative","scale":{"domain":[-1,107],"nice":false,"zero":false},"axis":null},"text":{"field":"l"}}}],"resolve":{"scale":{"y":"independent"},"axis":{"x":"independent","y":"independent"}}},{"width":310,"height":219,"layer":[{"data":{"name":"c"},"mark":{"type":"line","interpolate":"monotone"},"encoding":{"x":{"field":"t","type":"quantitative","scale":{"domain":[-0.396,30.297],"nice":false,"zero":false},"axis":{"values":[0,5,10,15,20,25,30],"title":"Time (h)","titlePadding":11,"labelPadding":9,"format":"d"}},"y":{"field":"y","type":"quantitative","scale":{"domain":[-0.005,1.014],"nice":false,"zero":false},"axis":{"values":[0,0.2,0.4,0.6,0.8,1],"format":".1f","title":"Bulk conc (mM)","titlePadding":10}},"color":{"field":"s","type":"nominal","scale":{"domain":["ΔT = 0 °C","ΔT = 30 °C","ΔT = 85 °C"],"range":["#55C055","#22AA22","#0A960A"]},"legend":{"orient":"none","legendX":158,"legendY":104,"title":null,"strokeColor":"#111","fillColor":"white","padding":4,"labelFontSize":14.5,"symbolType":"M-1,0L4.8,0","symbolSize":81,"rowPadding":2,"labelOffset":20,"encoding":{"symbols":{"strokeWidth":{"signal":"datum.value==='ΔT = 85 °C'?3:datum.value==='ΔT = 30 °C'?1.6:1.2"}}}}},"strokeWidth":{"field":"s","type":"nominal","legend":null,"scale":{"type":"ordinal","domain":["ΔT = 0 °C","ΔT = 30 °C","ΔT = 85 °C"],"range":[1.2,1.6,3]}}}},{"data":{"values":[{"t":16.8,"y":0.83,"l":"ρ = 1.05 g/cm³"}]},"mark":{"type":"text","fontSize":21.5},"encoding":{"x":{"field":"t","type":"quantitative","axis":{"orient":"top","labels":false,"title":null,"values":[0,5,10,15,20,25,30]}},"y":{"field":"y","type":"quantitative","axis":{"orient":"right","labels":false,"title":null,"values":[0,0.2,0.4,0.6,0.8,1]}},"text":{"field":"l"}}}],"resolve":{"axis":{"x":"independent","y":"independent"}}},{"bounds":"flush","spacing":0,"resolve":{"scale":{"color":"independent"},"legend":{"color":"independent"}},"hconcat":[{"width":7,"height":219,"view":{"stroke":null},"data":{"values":[{"n":0}]},"mark":{"type":"point","opacity":0},"encoding":{"x":{"field":"n","type":"quantitative","axis":null},"y":{"field":"n","type":"quantitative","axis":null}}},{"width":302,"height":219,"layer":[{"data":{"name":"d"},"mark":{"type":"line","interpolate":"monotone","strokeWidth":1.5},"encoding":{"x":{"field":"d","type":"quantitative","scale":{"domain":[-0.573,85.96],"nice":false,"zero":false},"axis":{"values":[0,20,40,60,80],"title":"Temperature difference (°C)","titlePadding":4,"format":"d"}},"y":{"field":"p","type":"quantitative","scale":{"domain":[-1.5,106.5],"nice":false,"zero":false},"axis":{"values":[0,20,40,60,80,100],"title":"% sedimented","titlePadding":8,"titleY":121,"format":"d"}},"color":{"field":"s","type":"nominal","scale":{"domain":["k","g","b"],"range":["#111111","#12A012","#6F6FFF"]},"legend":null}}},{"data":{"values":[{"d":71.5,"p":93.5,"l":"Steady"},{"d":71.5,"p":80.5,"l":"state"}]},"mark":{"type":"text","fontSize":21.5},"encoding":{"x":{"field":"d","type":"quantitative","axis":{"orient":"top","labels":false,"title":null,"values":[0,20,40,60,80]}},"y":{"field":"p","type":"quantitative","axis":{"orient":"right","labels":false,"title":null,"values":[0,20,40,60,80,100]}},"text":{"field":"l"}}}],"resolve":{"axis":{"x":"independent","y":"independent"}}}]}]}]}
